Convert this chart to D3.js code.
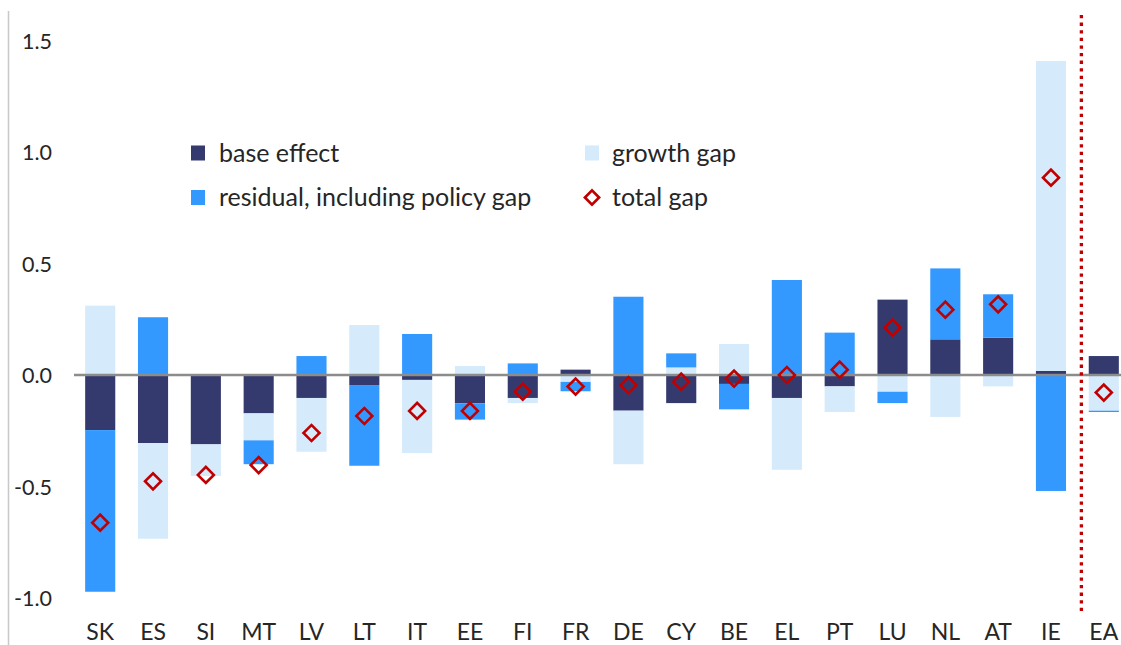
<!DOCTYPE html>
<html>
<head>
<meta charset="utf-8">
<script src="https://cdn.jsdelivr.net/npm/d3@7"></script>
<style>
  html, body { margin: 0; padding: 0; background: #ffffff; }
  svg { display: block; font-family: Lato, "Open Sans", sans-serif; }
</style>
</head>
<body>
<svg id="chart" width="1121" height="645"></svg>
<script>
// ---- data ----
const categories = ["SK","ES","SI","MT","LV","LT","IT","EE","FI","FR","DE","CY","BE","EL","PT","LU","NL","AT","IE","EA"];
const baseEffect = [-0.247,-0.305,-0.311,-0.172,-0.103,-0.045,-0.022,-0.127,-0.103, 0.024,-0.160,-0.126,-0.040,-0.103,-0.051, 0.338, 0.160, 0.167, 0.018, 0.085];
const growthGap  = [ 0.311,-0.429,-0.142,-0.121,-0.241, 0.224,-0.328, 0.040,-0.023,-0.031,-0.240, 0.034, 0.139,-0.322,-0.115,-0.075,-0.188,-0.051, 1.390,-0.160];
const residual   = [-0.725, 0.259, 0.000,-0.107, 0.085,-0.362, 0.184,-0.073, 0.052,-0.042, 0.351, 0.063,-0.114, 0.426, 0.190,-0.051, 0.318, 0.195,-0.520,-0.006];
const totalGap   = [-0.662,-0.477,-0.448,-0.404,-0.260,-0.184,-0.161,-0.161,-0.075,-0.052,-0.045,-0.030,-0.016, 0.000, 0.024, 0.212, 0.293, 0.317, 0.885,-0.079];
const yTicks = [-1.0, -0.5, 0.0, 0.5, 1.0, 1.5];
const seriesKeys  = ["base", "growth", "residual"];
const seriesNames = {base: "base effect", growth: "growth gap", residual: "residual, including policy gap", total: "total gap"};
const colors = {base: "#353A6E", growth: "#D5EAFB", residual: "#3399FF", total: "#C00000"};

// ---- setup ----
const svg = d3.select("#chart");
const rows = categories.map((c, i) => ({cat: c, base: baseEffect[i], growth: growthGap[i], residual: residual[i], total: totalGap[i]}));

const x = d3.scaleBand().domain(categories).range([73.8, 1130.2]).paddingInner(0.43).paddingOuter(0.215);
const y = d3.scaleLinear().domain([-1, 1.5]).range([598, 40.5]);

// left frame line
svg.append("line").attr("x1", 8.5).attr("x2", 8.5).attr("y1", 11).attr("y2", 645)
  .attr("stroke", "#C8C8C8").attr("stroke-width", 1.5);

// stacked bars
const stack = d3.stack().keys(seriesKeys).offset(d3.stackOffsetDiverging);
const layers = stack(rows);
svg.append("g").selectAll("g").data(layers).join("g")
  .attr("fill", d => colors[d.key])
  .selectAll("rect").data(d => d).join("rect")
  .attr("x", d => x(d.data.cat))
  .attr("width", x.bandwidth())
  .attr("y", d => y(Math.max(d[0], d[1])))
  .attr("height", d => Math.abs(y(d[0]) - y(d[1])));

// zero line
svg.append("line").attr("x1", 74).attr("x2", 1121).attr("y1", y(0)).attr("y2", y(0))
  .attr("stroke", "#8C8C8C").attr("stroke-width", 2.5);

// red dotted separator between IE and EA
const sepX = (x("IE") + x("EA")) / 2 + x.bandwidth() / 2 + 4;
svg.append("line").attr("x1", sepX).attr("x2", sepX).attr("y1", 15).attr("y2", 612)
  .attr("stroke", colors.total).attr("stroke-width", 3.3).attr("stroke-dasharray", "3.3 4.3");

// total gap diamonds
const diamond = d3.symbol(d3.symbolSquare, 128);
svg.append("g").selectAll("path").data(rows).join("path")
  .attr("d", diamond)
  .attr("transform", d => `translate(${x(d.cat) + x.bandwidth() / 2},${y(d.total)}) rotate(45)`)
  .attr("fill", "none").attr("stroke", colors.total).attr("stroke-width", 2.6);

// y axis labels
const yAxis = d3.axisLeft(y).tickValues(yTicks).tickSize(0).tickPadding(0).tickFormat(d => d.toFixed(1));
const gy = svg.append("g").attr("transform", "translate(52,0)").call(yAxis);
gy.select(".domain").remove();
gy.selectAll("text").attr("font-family", "Lato, sans-serif").attr("font-size", 21.5).attr("fill", "#262626").attr("dy", "0.36em");

// x axis labels
const xAxis = d3.axisBottom(x).tickSize(0).tickPadding(0);
const gx = svg.append("g").attr("transform", "translate(0,640)").call(xAxis);
gx.select(".domain").remove();
gx.selectAll("text").attr("font-family", "Lato, sans-serif").attr("font-size", 23).attr("fill", "#262626").attr("y", 0).attr("dy", 0);

// legend
const legendItems = [
  {key: "base", sx: 191, tx: 219, cy: 153},
  {key: "residual", sx: 191, tx: 219, cy: 197.5},
  {key: "growth", sx: 585, tx: 612, cy: 153},
  {key: "total", sx: 585, tx: 612, cy: 197.5}
];
const lg = svg.append("g");
legendItems.forEach(it => {
  if (it.key === "total") {
    lg.append("path").attr("d", d3.symbol(d3.symbolSquare, 100))
      .attr("transform", `translate(${it.sx + 7},${it.cy}) rotate(45)`)
      .attr("fill", "none").attr("stroke", colors.total).attr("stroke-width", 2.7);
  } else {
    lg.append("rect").attr("x", it.sx).attr("y", it.cy - 7.5).attr("width", 14).attr("height", 15)
      .attr("fill", colors[it.key]);
  }
  lg.append("text").attr("x", it.tx).attr("y", it.cy).attr("dy", "0.35em")
    .attr("font-family", "Lato, sans-serif").attr("font-size", 25).attr("fill", "#262626")
    .text(seriesNames[it.key]);
});
</script>
</body>
</html>
